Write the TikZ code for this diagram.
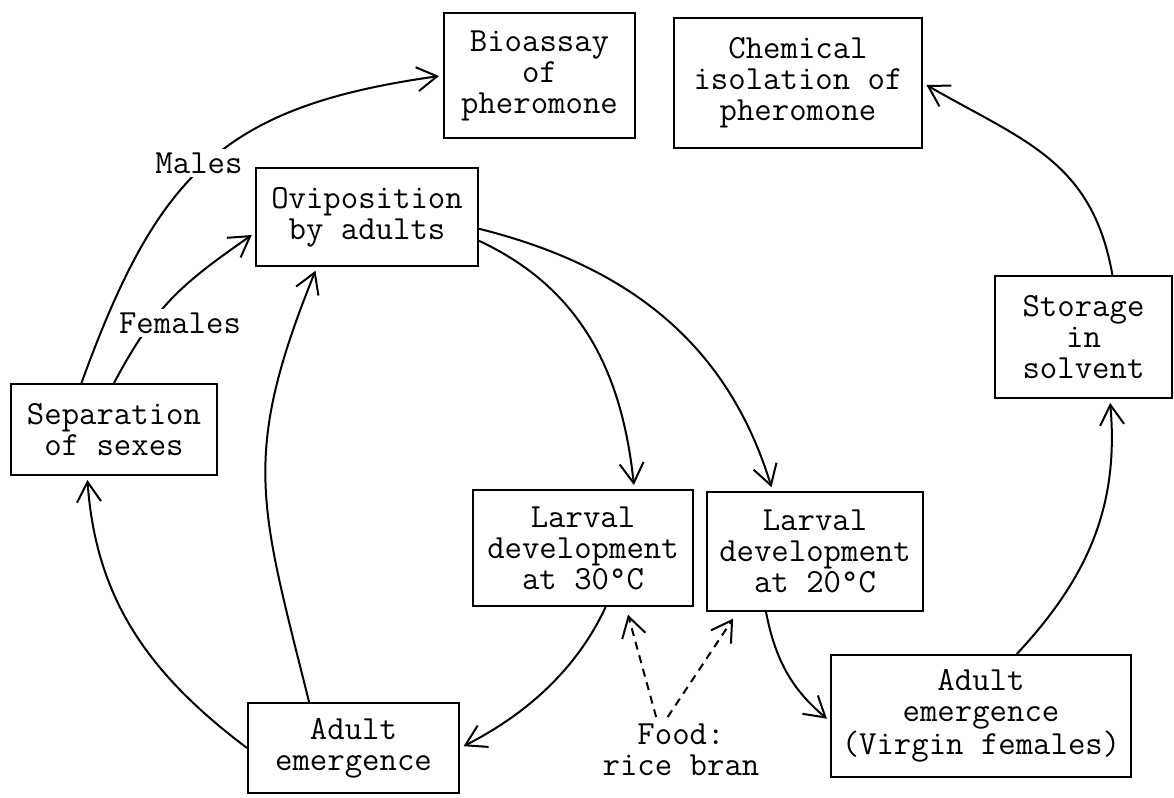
\documentclass[tikz,border=0pt]{standalone}
\usetikzlibrary{arrows.meta,positioning}

\begin{document}
\begin{tikzpicture}[on grid,>={Straight Barb[length=10pt,width=12pt]},
    every node/.style={font=\ttfamily\fontsize{16.9}{15.5}\selectfont},
    stage/.style={draw,line width=1pt,align=center,inner sep=0pt},
    lbl/.style={fill=white,inner sep=2pt},
    flow/.style={->,line width=1pt,shorten >=2pt},
    feed/.style={->,line width=1pt,dash pattern=on 4pt off 3pt,shorten >=4pt}]
  \useasboundingbox (0,0) rectangle (587pt,-399pt);
  % boxes
  \node[stage,minimum width=95.5pt,minimum height=62.5pt] (bio) at (269.75pt,-37.75pt) {Bioassay\\of\\pheromone};
  \node[stage,minimum width=124pt,minimum height=65pt] (chem) [below right=3.75pt and 129.25pt of bio] {Chemical\\isolation of\\pheromone};
  \node[stage,minimum width=111pt,minimum height=49pt] (ovi) [below left=70.75pt and 86.25pt of bio] {Oviposition\\by adults};
  \node[stage,minimum width=103pt,minimum height=45.5pt] (sep) [below left=106.25pt and 126.5pt of ovi] {Separation\\of sexes};
  \node[stage,minimum width=105.5pt,minimum height=45pt] (adult) [below right=159.25pt and 119.75pt of sep] {Adult\\emergence};
  \node[stage,minimum width=110pt,minimum height=58pt] (l30) [below right=165.5pt and 108pt of ovi] {Larval\\development\\at 30°C};
  \node[stage,minimum width=108pt,minimum height=59.5pt] (l20) [below right=1.75pt and 116pt of l30] {Larval\\development\\at 20°C};
  \node[stage,minimum width=150pt,minimum height=61pt] (virgin) [below right=82.25pt and 83pt of l20] {Adult\\emergence\\(Virgin females)};
  \node[stage,minimum width=88.5pt,minimum height=61pt] (stor) [above right=189.5pt and 51.25pt of virgin] {Storage\\in\\solvent};
  \node[align=center] (food) [below right=101pt and 49pt of l30] {Food:\\rice bran};
  % arrows
  \path[flow]
    (sep.125) edge [out=70,in=188,looseness=1.2] (bio.west)
    (sep.north) edge [out=62,in=215,looseness=1.1] (ovi.188)
    (adult.134) edge [out=104,in=248,looseness=1.2] (ovi.225)
    (adult.west) edge [out=143,in=274] (sep.240)
    (ovi.348) edge [out=-25,in=96] (l30.49)
    (ovi.354) edge [out=-14,in=107] (l20.125)
    (l30.291) edge [out=245,in=27,looseness=0.9] (adult.east)
    (l20.231) edge [out=-79,in=140] (virgin.182)
    (virgin.60) edge [out=47,in=275] (stor.293)
    (stor.65) edge [out=100,in=330,looseness=1.1] (chem.east);
  \path[feed]
    (food.127) edge (l30.306)
    (food.112) edge (l20.218);
  % labels on the sexes arrows
  \node[lbl] (males) [above right=133.25pt and 42.5pt of sep] {Males};
  \node[lbl] (females) [above right=53.25pt and 33pt of sep] {Females};
\end{tikzpicture}
\end{document}
